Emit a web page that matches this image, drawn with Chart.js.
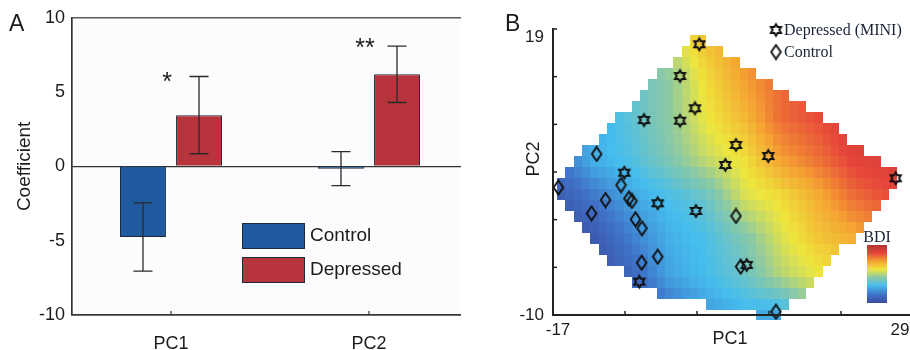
<!DOCTYPE html>
<html>
<head>
<meta charset="utf-8">
<script src="https://cdn.jsdelivr.net/npm/chart.js@4.4.1/dist/chart.umd.min.js"></script>
<style>
  html, body { margin: 0; padding: 0; background: #fff; width: 910px; height: 350px; overflow: hidden; }
  #wrapA { position: absolute; left: 0; top: 0; width: 461px; height: 350px; overflow: hidden; }
  #chartA { position: absolute; left: 0; top: 0; }
  #chartB { position: absolute; left: 480px; top: 0; }
</style>
</head>
<body>
<div id="wrapA"><canvas id="chartA" width="480" height="350"></canvas></div>
<canvas id="chartB" width="440" height="350"></canvas>
<script>
// ---- panel A data ----
const components = ['PC1', 'PC2'];
const controlCoef = [-4.75, -0.15];
const controlErr = [2.3, 1.15];
const depressedCoef = [3.45, 6.2];
const depressedErr = [2.6, 1.9];
const sigMarks = ['*', '**'];
const sigLevel = [6.0, 8.3];

// ---- panel B data ----
const depressedPC1 = [1.69, -0.77, 1.14, -5.37, -0.77, 6.38, 10.51, 5.02, 26.79, -7.89, -3.62, 1.27, 7.75, -5.97];
const depressedPC2 = [17.45, 14.23, 10.96, 9.77, 9.7, 7.24, 6.12, 5.21, 3.86, 4.43, 1.33, 0.55, -4.93, -6.62];
const controlPC1 = [-11.42, -16.32, -8.31, -10.29, -7.29, -6.91, -12.08, -6.46, -5.63, 6.38, -3.62, -5.67, 6.98, 11.49];
const controlPC2 = [6.33, 2.93, 3.18, 1.66, 1.81, 1.56, 0.31, -0.3, -1.21, 0.04, -4.09, -4.7, -5.1, -9.67];

// BDI surface nodes (rows go from PC2 = -10 up to PC2 = 19)
const gridPC1 = [-17, -12, -7, -2, 2.5, 7.5, 12, 17, 21.5, 29];
const gridPC2 = [-10, -6, -2, 2, 6, 10, 14, 19];
const bdiGrid = [
  [0, 0, 2, 5, 9, 11, 10, 18, 20, 24],
  [0, 0.5, 4, 10, 12, 15, 20, 23, 25, 28],
  [1, 2, 7, 11, 12.5, 17, 22, 26, 28, 32],
  [2, 6, 10, 12.5, 15, 22, 24, 28, 32, 35],
  [5, 11, 13, 17, 21, 24, 29, 32, 35, 37],
  [6, 10, 14, 18, 23, 27, 32, 34, 36, 38],
  [7, 10, 14, 18, 24, 29, 32, 34, 36, 38],
  [8, 11, 15, 22, 27, 30, 32, 34, 36, 38]
];
const bdiMin = 0;
const bdiMax = 40;

const pc1Ticks = [-17, -7.8, 1.4, 10.6, 19.8, 29];
const pc1TickLabels = ['-17', '', '', '', '', '29'];
const pc2Ticks = [-10, -5.17, -0.33, 4.5, 9.33, 14.17, 19];
const pc2TickLabels = ['-10', '', '', '', '', '', '19'];

const jet = [
  [0, [59, 75, 159]],
  [0.15, [63, 116, 201]],
  [0.3, [69, 189, 238]],
  [0.45, [143, 202, 160]],
  [0.58, [238, 230, 60]],
  [0.72, [245, 162, 50]],
  [0.86, [230, 69, 58]],
  [1, [178, 52, 52]]
];

const SANS = "'Liberation Sans', Arial, sans-serif";
const SERIF = "'Liberation Serif', 'Times New Roman', serif";
const INK = '#1c1c1c';

function colorAt(t) {
  t = Math.max(0, Math.min(1, t));
  for (let k = 0; k < jet.length - 1; k++) {
    const [t0, c0] = jet[k];
    const [t1, c1] = jet[k + 1];
    if (t <= t1) {
      const f = (t - t0) / (t1 - t0);
      const c = c0.map((v, i) => Math.round(v + (c1[i] - v) * f));
      return `rgb(${c[0]},${c[1]},${c[2]})`;
    }
  }
  return 'rgb(178,52,52)';
}

function locate(arr, v) {
  let i = 0;
  while (i < arr.length - 2 && v > arr[i + 1]) i++;
  const t = (v - arr[i]) / (arr[i + 1] - arr[i]);
  return [i, Math.max(0, Math.min(1, t))];
}

function bdiAt(px, py) {
  const [i, tx] = locate(gridPC1, px);
  const [j, ty] = locate(gridPC2, py);
  const a = bdiGrid[j][i], b = bdiGrid[j][i + 1];
  const c = bdiGrid[j + 1][i], d = bdiGrid[j + 1][i + 1];
  return (a * (1 - tx) + b * tx) * (1 - ty) + (c * (1 - tx) + d * tx) * ty;
}

function cross(o, a, b) {
  return (a[0] - o[0]) * (b[1] - o[1]) - (a[1] - o[1]) * (b[0] - o[0]);
}

function convexHull(pts) {
  pts = pts.slice().sort((p, q) => p[0] - q[0] || p[1] - q[1]);
  const lower = [], upper = [];
  for (const p of pts) {
    while (lower.length >= 2 && cross(lower[lower.length - 2], lower[lower.length - 1], p) <= 0) lower.pop();
    lower.push(p);
  }
  for (let i = pts.length - 1; i >= 0; i--) {
    const p = pts[i];
    while (upper.length >= 2 && cross(upper[upper.length - 2], upper[upper.length - 1], p) <= 0) upper.pop();
    upper.push(p);
  }
  upper.pop();
  lower.pop();
  return lower.concat(upper);
}

function insideHull(hull, p) {
  for (let i = 0; i < hull.length; i++) {
    if (cross(hull[i], hull[(i + 1) % hull.length], p) < 0) return false;
  }
  return true;
}

function makeStar() {
  const c = document.createElement('canvas');
  c.width = 15;
  c.height = 16;
  const g = c.getContext('2d');
  g.beginPath();
  for (let k = 0; k < 12; k++) {
    const r = k % 2 === 0 ? 5.8 : 3.35;
    const a = -Math.PI / 2 + (k * Math.PI) / 6;
    const px = 7.5 + r * Math.cos(a);
    const py = 8 + r * Math.sin(a);
    if (k === 0) g.moveTo(px, py);
    else g.lineTo(px, py);
  }
  g.closePath();
  g.lineWidth = 2;
  g.strokeStyle = '#111';
  g.stroke();
  return c;
}

function makeDiamond() {
  const c = document.createElement('canvas');
  c.width = 13;
  c.height = 17;
  const g = c.getContext('2d');
  g.beginPath();
  g.moveTo(6.5, 1.5);
  g.lineTo(11.3, 8.5);
  g.lineTo(6.5, 15.5);
  g.lineTo(1.7, 8.5);
  g.closePath();
  g.lineWidth = 1.9;
  g.strokeStyle = '#111';
  g.stroke();
  return c;
}

const starIcon = makeStar();
const diamondIcon = makeDiamond();

// ---------------- panel A ----------------
const panelA = {
  id: 'panelA',
  beforeDraw(chart) {
    const { ctx, chartArea: a } = chart;
    ctx.save();
    ctx.fillStyle = '#fcfcfe';
    ctx.fillRect(a.left, a.top, a.right - a.left, a.bottom - a.top);
    ctx.restore();
  },
  afterDatasetsDraw(chart) {
    const { ctx, scales } = chart;
    const errs = [controlErr, depressedErr];
    ctx.save();
    ctx.strokeStyle = '#2a2a2a';
    ctx.lineWidth = 1.3;
    chart.data.datasets.forEach((ds, d) => {
      chart.getDatasetMeta(d).data.forEach((bar, i) => {
        const v = ds.data[i];
        const y0 = scales.y.getPixelForValue(v + errs[d][i]);
        const y1 = scales.y.getPixelForValue(v - errs[d][i]);
        ctx.beginPath();
        ctx.moveTo(bar.x, y0);
        ctx.lineTo(bar.x, y1);
        ctx.moveTo(bar.x - 9.5, y0);
        ctx.lineTo(bar.x + 9.5, y0);
        ctx.moveTo(bar.x - 9.5, y1);
        ctx.lineTo(bar.x + 9.5, y1);
        ctx.stroke();
      });
    });

    // significance stars
    ctx.fillStyle = INK;
    ctx.font = `25px ${SANS}`;
    ctx.textAlign = 'center';
    ctx.textBaseline = 'alphabetic';
    sigMarks.forEach((m, i) => {
      const x = scales.x.getPixelForValue(i) - 4;
      const y = scales.y.getPixelForValue(sigLevel[i]) + 0.53 * 25;
      ctx.fillText(m, x, y);
    });
    ctx.restore();
  },
  afterDraw(chart) {
    const { ctx, chartArea: a, scales } = chart;
    ctx.save();
    // axes box
    ctx.strokeStyle = '#333';
    ctx.lineWidth = 1.2;
    ctx.strokeRect(a.left, a.top, a.right - a.left, a.bottom - a.top);
    // x tick marks (inward)
    components.forEach((c, i) => {
      const x = scales.x.getPixelForValue(i);
      ctx.beginPath();
      ctx.moveTo(x, a.bottom);
      ctx.lineTo(x, a.bottom - 4);
      ctx.stroke();
    });

    // legend
    const boxes = [
      { label: chart.data.datasets[0].label, color: chart.data.datasets[0].backgroundColor, top: 223 },
      { label: chart.data.datasets[1].label, color: chart.data.datasets[1].backgroundColor, top: 257 }
    ];
    ctx.font = `19px ${SANS}`;
    ctx.textAlign = 'left';
    ctx.textBaseline = 'middle';
    for (const b of boxes) {
      ctx.fillStyle = b.color;
      ctx.fillRect(242, b.top, 62, 25);
      ctx.strokeStyle = '#1c2b3c';
      ctx.lineWidth = 1;
      ctx.strokeRect(242.5, b.top + 0.5, 62, 25);
      ctx.fillStyle = INK;
      ctx.fillText(b.label, 310, b.top + 13);
    }

    // panel letter
    ctx.font = `23px ${SANS}`;
    ctx.textBaseline = 'alphabetic';
    ctx.fillText('A', 9, 31);
    ctx.restore();
  }
};

new Chart(document.getElementById('chartA'), {
  type: 'bar',
  data: {
    labels: components,
    datasets: [
      {
        label: 'Control',
        data: controlCoef,
        backgroundColor: '#1f5a9e',
        borderColor: '#1c2b3c',
        borderWidth: 1,
        categoryPercentage: 0.566,
        barPercentage: 0.82
      },
      {
        label: 'Depressed',
        data: depressedCoef,
        backgroundColor: '#b8343d',
        borderColor: '#1c2b3c',
        borderWidth: 1,
        categoryPercentage: 0.566,
        barPercentage: 0.82
      }
    ]
  },
  options: {
    responsive: false,
    animation: false,
    devicePixelRatio: 1,
    layout: { padding: { top: 16, right: 12, left: 0, bottom: 0 } },
    plugins: { legend: { display: false }, tooltip: { enabled: false } },
    scales: {
      x: {
        grid: { display: false },
        border: { color: '#333', width: 1.2 },
        ticks: { color: INK, font: { family: SANS, size: 18 }, padding: 10 },
        afterFit: (s) => { s.height = 35; s.paddingLeft = 0; s.paddingRight = 0; }
      },
      y: {
        min: -10,
        max: 10,
        ticks: { stepSize: 5, color: INK, font: { family: SANS, size: 18 }, padding: 7 },
        grid: {
          drawTicks: false,
          color: (c) => (c.tick && c.tick.value === 0 ? '#333' : 'rgba(0,0,0,0)'),
          lineWidth: 1.2
        },
        border: { color: '#333', width: 1.2 },
        title: {
          display: true,
          text: 'Coefficient',
          color: INK,
          font: { family: SANS, size: 19 },
          padding: { top: 13, bottom: 0 }
        },
        afterFit: (s) => { s.width = 72; }
      }
    }
  },
  plugins: [panelA]
});

// ---------------- panel B ----------------
const allPoints = depressedPC1.map((x, i) => [x, depressedPC2[i]])
  .concat(controlPC1.map((x, i) => [x, controlPC2[i]]));
const hull = convexHull(allPoints);
const cellW = 1.06;
const cellH = 1.115;

const panelB = {
  id: 'panelB',
  beforeDatasetsDraw(chart) {
    const { ctx, scales: { x, y } } = chart;
    ctx.save();
    for (let i = -3; i <= 46; i++) {
      const cx = -17 + i * cellW;
      for (let j = -3; j <= 30; j++) {
        const cy = -10 + j * cellH;
        const corners = [
          [cx - 0.55 * cellW, cy - 0.55 * cellH], [cx + 0.55 * cellW, cy - 0.55 * cellH],
          [cx - 0.55 * cellW, cy + 0.55 * cellH], [cx + 0.55 * cellW, cy + 0.55 * cellH]
        ];
        if (!corners.some((p) => insideHull(hull, p))) continue;
        const x0 = Math.round(x.getPixelForValue(cx - cellW / 2));
        const x1 = Math.round(x.getPixelForValue(cx + cellW / 2));
        const y0 = Math.round(y.getPixelForValue(cy + cellH / 2));
        const y1 = Math.round(y.getPixelForValue(cy - cellH / 2));
        ctx.fillStyle = colorAt((bdiAt(cx, cy) - bdiMin) / (bdiMax - bdiMin));
        ctx.fillRect(x0, y0, x1 - x0, y1 - y0);
      }
    }
    ctx.restore();
  },
  afterDraw(chart) {
    const { ctx, chartArea: a, scales: { x, y } } = chart;
    ctx.save();
    // inward tick marks
    ctx.strokeStyle = '#222';
    ctx.lineWidth = 1.5;
    pc1Ticks.forEach((v) => {
      const px = x.getPixelForValue(v);
      ctx.beginPath();
      ctx.moveTo(px, a.bottom);
      ctx.lineTo(px, a.bottom - 4);
      ctx.stroke();
    });
    pc2Ticks.forEach((v) => {
      const py = y.getPixelForValue(v);
      ctx.beginPath();
      ctx.moveTo(a.left, py);
      ctx.lineTo(a.left + 4, py);
      ctx.stroke();
    });

    // tick labels
    ctx.fillStyle = INK;
    ctx.font = `17px ${SANS}`;
    ctx.textBaseline = 'middle';
    ctx.textAlign = 'right';
    pc2Ticks.forEach((v, i) => {
      if (!pc2TickLabels[i]) return;
      const py = y.getPixelForValue(v) + (i === pc2Ticks.length - 1 ? 8 : 0);
      ctx.fillText(pc2TickLabels[i], a.left - 9, py);
    });
    ctx.textAlign = 'center';
    pc1Ticks.forEach((v, i) => {
      if (!pc1TickLabels[i]) return;
      const px = x.getPixelForValue(v) + (i === 0 ? 5 : -13);
      ctx.fillText(pc1TickLabels[i], px, a.bottom + 15);
    });

    // axis titles
    ctx.font = `18px ${SANS}`;
    ctx.fillText('PC1', (a.left + a.right) / 2 - 3, a.bottom + 24);
    ctx.save();
    ctx.translate(54, 159);
    ctx.rotate(-Math.PI / 2);
    ctx.fillText('PC2', 0, 0);
    ctx.restore();

    // legend
    ctx.drawImage(starIcon, 296 - 7.5, 30 - 8);
    ctx.drawImage(diamondIcon, 296 - 6.5, 52 - 8.5);
    ctx.font = `16px ${SERIF}`;
    ctx.fillStyle = '#1a2436';
    ctx.textAlign = 'left';
    ctx.fillText(chart.data.datasets[0].label, 304, 31);
    ctx.fillText(chart.data.datasets[1].label, 304, 53);

    // colour bar
    const grad = ctx.createLinearGradient(0, 303, 0, 245);
    jet.forEach(([t, c]) => grad.addColorStop(t, `rgb(${c[0]},${c[1]},${c[2]})`));
    ctx.fillStyle = grad;
    ctx.fillRect(387, 245, 20, 58);
    ctx.fillStyle = '#1a2436';
    ctx.font = `16px ${SERIF}`;
    ctx.textAlign = 'center';
    ctx.textBaseline = 'alphabetic';
    ctx.fillText('BDI', 397, 242);

    // panel letter
    ctx.fillStyle = INK;
    ctx.font = `23px ${SANS}`;
    ctx.textAlign = 'left';
    ctx.fillText('B', 25, 31);
    ctx.restore();
  }
};

new Chart(document.getElementById('chartB'), {
  type: 'scatter',
  data: {
    datasets: [
      {
        label: 'Depressed (MINI)',
        data: depressedPC1.map((v, i) => ({ x: v, y: depressedPC2[i] })),
        pointStyle: starIcon,
        clip: false
      },
      {
        label: 'Control',
        data: controlPC1.map((v, i) => ({ x: v, y: controlPC2[i] })),
        pointStyle: diamondIcon,
        clip: false
      }
    ]
  },
  options: {
    responsive: false,
    animation: false,
    devicePixelRatio: 1,
    layout: { padding: { top: 29, right: 7, left: 0, bottom: 0 } },
    plugins: { legend: { display: false }, tooltip: { enabled: false } },
    scales: {
      x: {
        type: 'linear',
        min: -17,
        max: 29,
        afterBuildTicks: (s) => { s.ticks = pc1Ticks.map((v) => ({ value: v })); },
        ticks: { display: false },
        grid: { display: false },
        border: { color: '#222', width: 2, z: 1 },
        afterFit: (s) => { s.height = 35; s.paddingLeft = 0; s.paddingRight = 0; }
      },
      y: {
        type: 'linear',
        min: -10,
        max: 19,
        afterBuildTicks: (s) => { s.ticks = pc2Ticks.map((v) => ({ value: v })); },
        ticks: { display: false },
        grid: { display: false },
        border: { color: '#222', width: 2, z: 1 },
        afterFit: (s) => { s.width = 73; s.paddingTop = 0; s.paddingBottom = 0; }
      }
    }
  },
  plugins: [panelB]
});
</script>
</body>
</html>
